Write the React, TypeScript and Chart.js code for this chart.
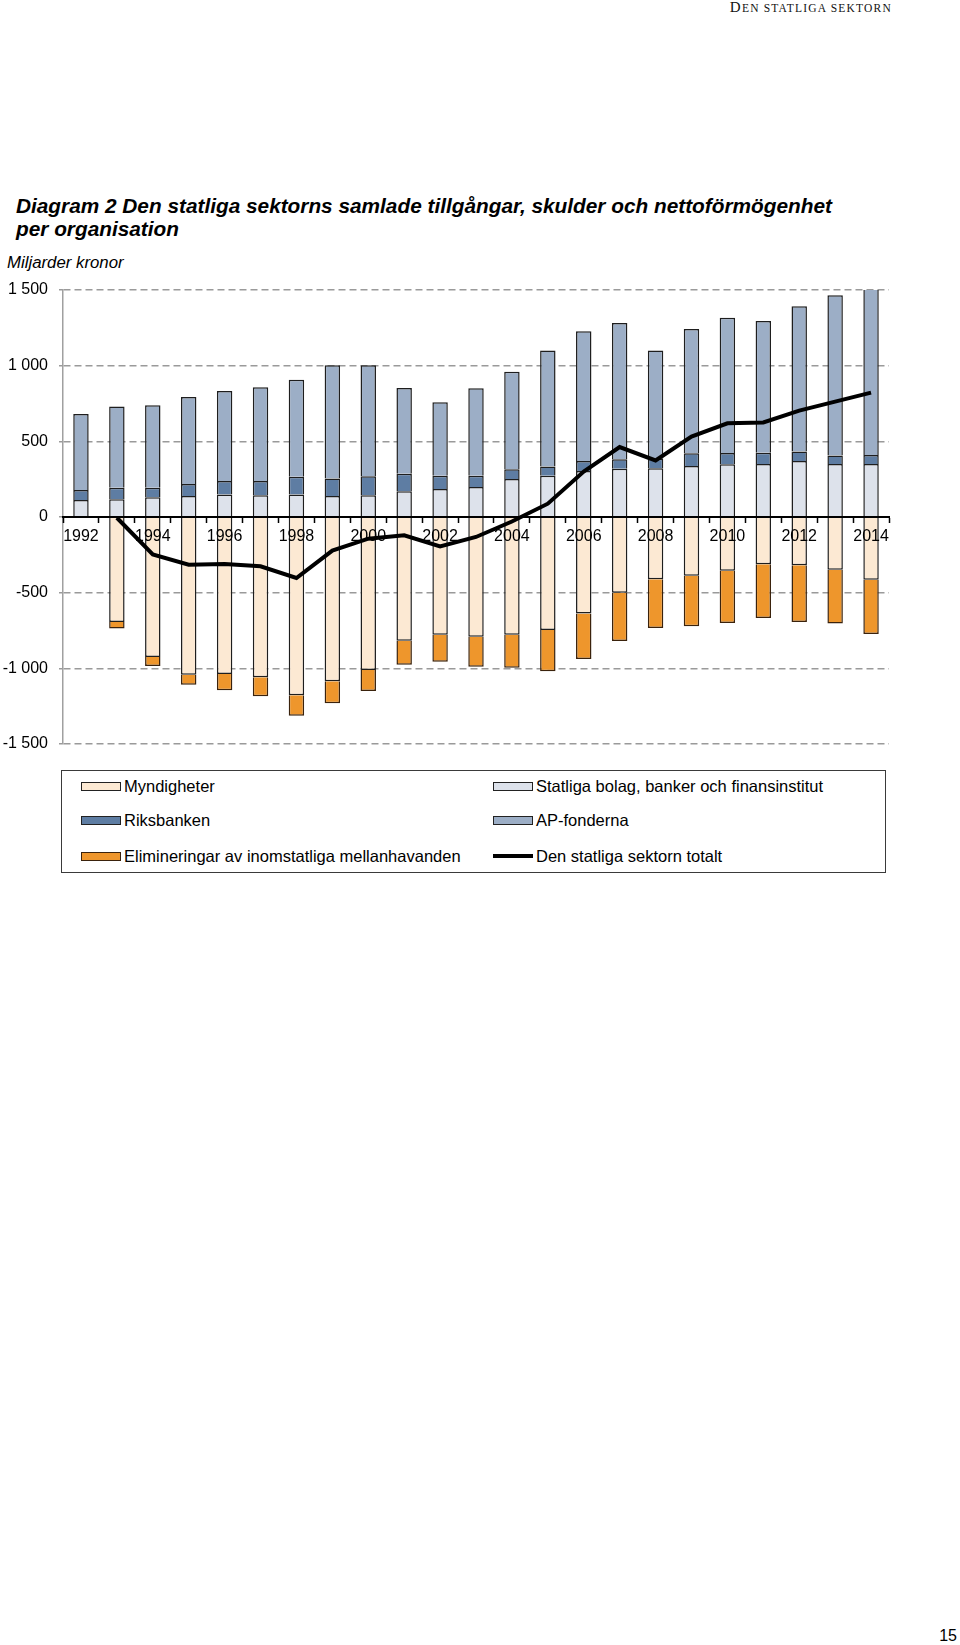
import React, { useEffect, useRef } from 'react';
import { Chart, registerables } from 'chart.js';

Chart.register(...registerables);

const years = ['1992', '1993', '1994', '1995', '1996', '1997', '1998', '1999', '2000', '2001', '2002', '2003', '2004', '2005', '2006', '2007', '2008', '2009', '2010', '2011', '2012', '2013', '2014'];

const myndigheter = [null, -694, -925, -1042, -1037, -1059, -1178, -1086, -1011, -817, -778, -791, -778, -747, -637, -500, -412, -388, -355, -313, -319, -348, -414];
const statligaBolag = [112, 117, 130, 139, 148, 143, 148, 139, 143, 170, 185, 198, 251, 273, 304, 319, 322, 337, 348, 350, 370, 350, 350];
const riksbanken = [66, 77, 64, 79, 90, 95, 118, 116, 126, 116, 88, 75, 64, 60, 66, 62, 63, 84, 75, 75, 62, 57, 60];
const apFonderna = [502, 537, 544, 575, 595, 619, 641, 747, 733, 566, 485, 577, 645, 768, 857, 901, 716, 821, 894, 870, 960, 1058, 1185];
const elimineringar = [null, -42, -60, -66, -108, -126, -135, -145, -139, -159, -178, -198, -218, -273, -301, -319, -321, -334, -345, -354, -375, -355, -359];
const totalt = [null, -5, -247, -315, -311, -326, -403, -222, -143, -121, -194, -132, -30, 88, 300, 462, 374, 531, 619, 625, 703, 762, 822];

const yTicks = [-1500, -1000, -500, 0, 500, 1000, 1500];

const SANS = "'Liberation Sans', Arial, Helvetica, sans-serif";
const SERIF = "'Liberation Serif', 'Times New Roman', serif";

const COLORS = {
  myndigheter: '#FCE9D3',
  statliga: '#DDE2EB',
  riksbanken: '#5E7DA3',
  ap: '#9CAEC6',
  elim: '#EE962C',
  line: '#000000',
};

function fmt(v: number): string {
  const a = Math.abs(v);
  let s = String(a);
  if (a >= 1000) s = String(Math.floor(a / 1000)) + ' ' + String(a % 1000).padStart(3, '0');
  return (v < 0 ? '-' : '') + s;
}

function ChartCanvas() {
  const ref = useRef<HTMLCanvasElement | null>(null);
  useEffect(() => {
    if (!ref.current) return;
    const font = { family: SANS, size: 16 };
    const barCommon: any = {
      stack: 'main',
      borderColor: '#1e1e1e',
      borderWidth: 1.5,
      borderSkipped: 'start',
      barPercentage: 0.43,
      categoryPercentage: 1.0,
    };
    const chart = new Chart(ref.current, {
      type: 'bar',
      data: {
        labels: years,
        datasets: [
          { ...barCommon, label: 'Myndigheter', data: myndigheter, backgroundColor: COLORS.myndigheter },
          { ...barCommon, label: 'Statliga bolag, banker och finansinstitut', data: statligaBolag, backgroundColor: COLORS.statliga },
          { ...barCommon, label: 'Riksbanken', data: riksbanken, backgroundColor: COLORS.riksbanken },
          { ...barCommon, label: 'AP-fonderna', data: apFonderna, backgroundColor: COLORS.ap },
          { ...barCommon, label: 'Elimineringar av inomstatliga mellanhavanden', data: elimineringar, backgroundColor: COLORS.elim, borderColor: '#3a220c' },
          {
            type: 'line',
            label: 'Den statliga sektorn totalt',
            data: totalt,
            borderColor: COLORS.line,
            borderWidth: 4,
            pointRadius: 0,
            pointHoverRadius: 0,
            tension: 0,
            fill: false,
            order: -1,
          } as any,
        ],
      },
      options: {
        animation: false,
        responsive: false,
        maintainAspectRatio: false,
        layout: { padding: { top: 20, bottom: 16, left: 0, right: 71 } },
        plugins: { legend: { display: false }, tooltip: { enabled: false } },
        scales: {
          x: {
            type: 'category',
            stacked: true,
            position: { y: 0 } as any,
            grid: {
              display: true,
              drawOnChartArea: false,
              drawTicks: true,
              tickLength: 5,
              tickColor: '#000',
              tickWidth: 1.5,
              offset: true,
              z: 1,
            } as any,
            border: { display: true, color: '#000', width: 2, z: 1 } as any,
            ticks: {
              autoSkip: false,
              maxRotation: 0,
              minRotation: 0,
              padding: 5,
              color: '#000',
              font,
              z: 2,
              callback: (_v: any, i: number) => (i % 2 === 0 ? years[i] : ''),
            },
            afterFit: (s: any) => {
              s.height = 0;
              s.paddingLeft = 0;
              s.paddingRight = 0;
            },
          },
          y: {
            stacked: true,
            min: yTicks[0],
            max: yTicks[yTicks.length - 1],
            afterBuildTicks: (s: any) => {
              s.ticks = yTicks.map((v) => ({ value: v }));
            },
            ticks: {
              color: '#000',
              font,
              padding: 11,
              callback: (v: any) => fmt(Number(v)),
            },
            grid: { color: '#9a9a9a', lineWidth: 1.5, tickLength: 4, tickColor: '#9a9a9a' },
            border: { display: true, color: '#a0a0a0', width: 1.5, dash: [7, 4] },
            afterFit: (s: any) => {
              s.width = 63;
              s.paddingTop = 0;
              s.paddingBottom = 0;
            },
          },
        },
      },
    });
    return () => chart.destroy();
  }, []);
  return (
    <canvas
      ref={ref}
      width={960}
      height={490}
      style={{ position: 'absolute', left: 0, top: 270, width: 960, height: 490 }}
    />
  );
}

type LegendItem = { label: string; color: string; kind: 'box' | 'line'; border?: string };

const legendItems: LegendItem[] = [
  { label: 'Myndigheter', color: COLORS.myndigheter, kind: 'box' },
  { label: 'Statliga bolag, banker och finansinstitut', color: COLORS.statliga, kind: 'box' },
  { label: 'Riksbanken', color: COLORS.riksbanken, kind: 'box' },
  { label: 'AP-fonderna', color: COLORS.ap, kind: 'box' },
  { label: 'Elimineringar av inomstatliga mellanhavanden', color: COLORS.elim, kind: 'box', border: '#3a220c' },
  { label: 'Den statliga sektorn totalt', color: COLORS.line, kind: 'line' },
];

function Legend() {
  const rowCenters = [786, 820, 856];
  const colSwatch = [81, 493];
  return (
    <div>
      <div
        style={{
          position: 'absolute',
          left: 61,
          top: 770,
          width: 825,
          height: 103,
          border: '1px solid #3a3a3a',
          boxSizing: 'border-box',
        }}
      />
      {legendItems.map((it, i) => {
        const row = Math.floor(i / 2);
        const col = i % 2;
        const cy = rowCenters[row];
        return (
          <div
            key={it.label}
            style={{
              position: 'absolute',
              left: colSwatch[col],
              top: cy - 10,
              height: 20,
              display: 'flex',
              alignItems: 'center',
              whiteSpace: 'nowrap',
              fontFamily: SANS,
              fontSize: 16.5,
              color: '#000',
            }}
          >
            {it.kind === 'box' ? (
              <div
                style={{
                  width: 40,
                  height: 9,
                  boxSizing: 'border-box',
                  background: it.color,
                  border: `1.5px solid ${it.border || '#222'}`,
                  marginRight: 3,
                }}
              />
            ) : (
              <div style={{ width: 40, height: 4, background: it.color, marginRight: 3 }} />
            )}
            <span>{it.label}</span>
          </div>
        );
      })}
    </div>
  );
}

export default function App() {
  return (
    <div
      style={{
        position: 'absolute',
        left: 0,
        top: 0,
        width: 960,
        height: 1645,
        overflow: 'hidden',
        background: '#fff',
      }}
    >
      <div
        style={{
          position: 'absolute',
          right: 68,
          top: -1,
          fontFamily: SERIF,
          lineHeight: '15px',
          whiteSpace: 'nowrap',
          letterSpacing: '1.2px',
          color: '#111',
        }}
      >
        <span style={{ fontSize: 15 }}>D</span>
        <span style={{ fontSize: 11.5 }}>EN STATLIGA SEKTORN</span>
      </div>
      <div
        style={{
          position: 'absolute',
          left: 16,
          top: 195,
          fontFamily: SANS,
          fontWeight: 'bold',
          fontStyle: 'italic',
          fontSize: 20.8,
          lineHeight: '22.5px',
          color: '#000',
          whiteSpace: 'nowrap',
        }}
      >
        Diagram 2 Den statliga sektorns samlade tillgångar, skulder och nettoförmögenhet
        <br />
        per organisation
      </div>
      <div
        style={{
          position: 'absolute',
          left: 7,
          top: 252.5,
          fontFamily: SANS,
          fontStyle: 'italic',
          fontSize: 16.8,
          lineHeight: '19px',
          color: '#000',
          whiteSpace: 'nowrap',
        }}
      >
        Miljarder kronor
      </div>
      <ChartCanvas />
      <Legend />
      <div
        style={{
          position: 'absolute',
          right: 3,
          top: 1627,
          fontFamily: SANS,
          fontSize: 16,
          lineHeight: '18px',
          color: '#000',
        }}
      >
        15
      </div>
    </div>
  );
}
